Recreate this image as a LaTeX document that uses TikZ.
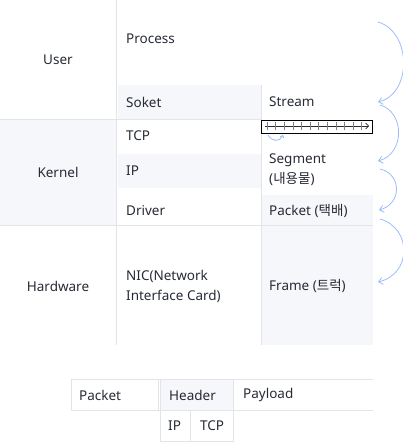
\documentclass[tikz,border=0pt]{standalone}
\usepackage{fontspec}
\setmainfont{Noto Sans}
\newfontfamily\krfont{Noto Sans CJK KR}
\usetikzlibrary{arrows.meta}
\definecolor{gridline}{RGB}{226,228,232}
\definecolor{cellfill}{RGB}{246,247,251}
\definecolor{ink}{RGB}{38,42,52}
\definecolor{flow}{RGB}{158,188,250}
\tikzset{
  lbl/.style={anchor=west, inner sep=0pt, text=ink, align=left,
              font=\fontsize{13.5}{20}\selectfont},
  clbl/.style={lbl, anchor=center, align=center},
  grid/.style={draw=gridline, line width=1pt},
  flowarr/.style={-{Straight Barb[length=4pt, width=7pt]}, draw=flow, line width=0.8pt},
}

\begin{document}
\begin{tikzpicture}[x=1pt, y=-1pt]
  \useasboundingbox (0,0) rectangle (403,442);
  % cell backgrounds
  \fill[cellfill] (118,85) rectangle (261,119);
  \fill[cellfill] (0,119) rectangle (116,225);
  \fill[cellfill] (118,154) rectangle (261,188);
  \fill[cellfill] (262,195) rectangle (373,225);
  \fill[cellfill] (262,225) rectangle (373,345);
  \fill[cellfill] (160,379) rectangle (233,410);
  % grid
  \draw[grid] (116,0) -- (116,345);
  \draw[grid] (261,85) -- (261,345);
  \draw[grid] (0,119) -- (261,119);
  \draw[grid] (0,225) -- (373,225);

  \node[clbl] (user) at (58,60) {User};
  \node[clbl] (kernel) at (58,172) {Kernel};
  \node[clbl] (hardware) at (58,286) {Hardware};
  \node[lbl] (process) at (126,39) {Process};
  \node[lbl] (soket) at (126,102) {Soket};
  \node[lbl] (tcp) at (126,136) {TCP};
  \node[lbl] (ip) at (126,171) {IP};
  \node[lbl] (driver) at (126,211) {Driver};
  \node[lbl] (nic) at (126,286) {NIC(Network\\Interface Card)};
  \node[lbl] (stream) at (269,102) {Stream};
  \node[lbl] (segment) at (269,170) {Segment\\({\krfont 내용물})};
  \node[lbl] (packet) at (269,211) {Packet ({\krfont 택배})};
  \node[lbl] (frame) at (269,286) {Frame ({\krfont 트럭})};

  % byte stream
  \draw[black, line width=0.6pt] (261,120) rectangle (372,133);
  \coordinate (bs) at (265,126);
  \coordinate (be) at (369,126);
  \draw[-{Straight Barb[length=3pt, width=6pt]}, ink, line width=0.6pt] (bs) -- (be);
  \foreach \i in {0,...,11}
    \draw[gray, line width=0.5pt] (267+\i*8.6,122) -- (267+\i*8.6,130);
  \coordinate (c1) at (268,135);
  \coordinate (c2) at (283,135);
  \draw[flowarr, -{Straight Barb[length=2pt, width=4pt]}] (c1) .. controls (272,142) and (280,142) .. (c2);

  % flow arrows
  \coordinate (f0) at (378,22);
  \coordinate (f1) at (378,102);
  \coordinate (f1b) at (380,105);
  \coordinate (f2) at (378,161);
  \coordinate (f2b) at (380,169);
  \coordinate (f3) at (379,210);
  \coordinate (f3b) at (380,219);
  \coordinate (f4) at (378,282);
  \draw[flowarr] (f0) .. controls (412,32) and (412,94) .. (f1);
  \draw[flowarr] (f1b) .. controls (405,112) and (405,154) .. (f2);
  \draw[flowarr] (f2b) .. controls (402,174) and (402,204) .. (f3);
  \draw[flowarr] (f3b) .. controls (412,228) and (412,274) .. (f4);

  % packet layout
  \draw[grid] (71,379) -- (373,379);
  \draw[grid] (71,410) -- (373,410);
  \draw[grid] (71,379) -- (71,410);
  \draw[grid] (158,379) -- (158,410);
  \draw[grid] (160,379) -- (160,442);
  \draw[grid] (190,410) -- (190,442);
  \draw[grid] (233,379) -- (233,442);
  \draw[grid] (160,441.5) -- (233,441.5);
  \node[lbl] (pkt) at (79,395) {Packet};
  \node[lbl] (header) at (169,395) {Header};
  \node[lbl] (payload) at (243,395) {Payload};
  \node[lbl] (hip) at (168,426) {IP};
  \node[lbl] (htcp) at (200,426) {TCP};
\end{tikzpicture}
\end{document}
